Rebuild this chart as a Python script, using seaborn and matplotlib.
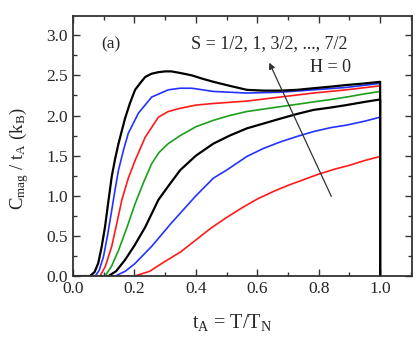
import matplotlib
matplotlib.use("Agg")
import matplotlib.pyplot as plt
from matplotlib.ticker import MultipleLocator, FormatStrFormatter
import seaborn as sns

# values: t_A = T/T_N and C_mag / t_A for S = 1/2 ... 7/2
t_s05 = [0, 0.2, 0.25, 0.29, 0.35, 0.4, 0.45, 0.5, 0.55, 0.6, 0.65, 0.7, 0.75, 0.8, 0.85, 0.9, 0.95, 1.0]
c_s05 = [0, 0.0, 0.06, 0.16, 0.3, 0.45, 0.6, 0.73, 0.85, 0.96, 1.05, 1.13, 1.2, 1.27, 1.33, 1.38, 1.44, 1.49]

t_s10 = [0, 0.137, 0.17, 0.2, 0.256, 0.32, 0.36, 0.4, 0.457, 0.5, 0.566, 0.62, 0.674, 0.73, 0.783, 0.84, 0.89, 0.95, 1.0]
c_s10 = [0, 0.0, 0.06, 0.15, 0.37, 0.66, 0.83, 1.0, 1.22, 1.32, 1.49, 1.59, 1.67, 1.74, 1.80, 1.85, 1.88, 1.93, 1.98]

t_s15 = [0, 0.115, 0.14, 0.169, 0.2, 0.235, 0.278, 0.31, 0.349, 0.4, 0.457, 0.51, 0.566, 0.62, 0.674, 0.73, 0.783, 0.84, 0.89, 0.95, 1.0]
c_s15 = [0, 0.0, 0.06, 0.2, 0.38, 0.61, 0.95, 1.12, 1.32, 1.5, 1.65, 1.75, 1.84, 1.90, 1.96, 2.02, 2.07, 2.10, 2.13, 2.17, 2.20]

t_s20 = [0, 0.104, 0.125, 0.148, 0.175, 0.202, 0.23, 0.256, 0.28, 0.31, 0.349, 0.4, 0.457, 0.51, 0.566, 0.62, 0.674, 0.73, 0.783, 0.84, 0.89, 0.95, 1.0]
c_s20 = [0, 0.0, 0.12, 0.32, 0.6, 0.9, 1.17, 1.40, 1.54, 1.65, 1.75, 1.86, 1.94, 2.0, 2.05, 2.08, 2.11, 2.14, 2.17, 2.20, 2.23, 2.27, 2.30]

t_s25 = [0, 0.088, 0.105, 0.126, 0.145, 0.159, 0.18, 0.202, 0.235, 0.278, 0.31, 0.349, 0.4, 0.457, 0.566, 0.674, 0.783, 0.89, 1.0]
c_s25 = [0, 0.0, 0.12, 0.37, 0.70, 0.95, 1.22, 1.44, 1.73, 1.98, 2.05, 2.09, 2.13, 2.15, 2.18, 2.23, 2.28, 2.32, 2.37]

t_s30 = [0, 0.072, 0.085, 0.099, 0.112, 0.126, 0.137, 0.148, 0.165, 0.18, 0.213, 0.256, 0.31, 0.349, 0.387, 0.457, 0.566, 0.674, 0.783, 0.89, 1.0]
c_s30 = [0, 0.0, 0.07, 0.24, 0.5, 0.82, 1.08, 1.32, 1.58, 1.78, 2.03, 2.23, 2.32, 2.34, 2.34, 2.30, 2.28, 2.29, 2.32, 2.35, 2.40]

t_s35 = [0, 0.055, 0.07, 0.082, 0.093, 0.104, 0.115, 0.126, 0.137, 0.148, 0.169, 0.185, 0.202, 0.22, 0.235,
         0.255, 0.278, 0.3, 0.32, 0.349, 0.387, 0.42, 0.457, 0.51, 0.566, 0.62, 0.674, 0.73, 0.783, 0.84, 0.89, 0.95, 1.0]
c_s35 = [0, 0.0, 0.05, 0.16, 0.36, 0.61, 0.93, 1.24, 1.46, 1.65, 1.96, 2.15, 2.32, 2.41, 2.48,
         2.52, 2.54, 2.55, 2.55, 2.53, 2.50, 2.46, 2.42, 2.37, 2.32, 2.31, 2.31, 2.32, 2.34, 2.36, 2.38, 2.40, 2.42]

series_t = [t_s05, t_s10, t_s15, t_s20, t_s25, t_s30, t_s35]
series_c = [c_s05, c_s10, c_s15, c_s20, c_s25, c_s30, c_s35]
colors = ["#ff1a1a", "#2233ff", "black", "#1aa01a", "#ff1a1a", "#2233ff", "black"]
widths = [1.2, 1.2, 1.6, 1.2, 1.2, 1.2, 1.6]

sns.set_style("ticks")
plt.rcParams["font.family"] = ["Liberation Serif", "DejaVu Serif"]
plt.rcParams["mathtext.fontset"] = "custom"
plt.rcParams["mathtext.rm"] = "Liberation Serif"
plt.rcParams["mathtext.it"] = "Liberation Serif"

fig = plt.figure(figsize=(4.15, 3.4), dpi=100)
ax = fig.add_axes([0.176, 0.188, 0.817, 0.765])

for t, c, col, lw in zip(series_t, series_c, colors, widths):
    # each curve drops back to zero at t_A = 1
    sns.lineplot(x=t + [1.0], y=c + [0.0], color=col, linewidth=lw,
                 estimator=None, sort=False, ax=ax)

ax.annotate("", xy=(0.635, 2.69), xytext=(0.845, 0.96),
            arrowprops=dict(arrowstyle="-|>", color="#333333", lw=0.9,
                            mutation_scale=9))
ax.text(0.093, 2.88, "(a)", fontsize=12.5, ha="left", va="center")
ax.text(0.64, 2.9, "S = 1/2, 1, 3/2, ..., 7/2", fontsize=13, ha="center", va="center")
ax.text(0.905, 2.6, "H = 0", fontsize=13, ha="right", va="center")

ax.set_xlim(0, 1.104)
ax.set_ylim(0, 3.24)
ax.xaxis.set_major_locator(MultipleLocator(0.2))
ax.xaxis.set_minor_locator(MultipleLocator(0.1))
ax.yaxis.set_major_locator(MultipleLocator(0.5))
ax.yaxis.set_minor_locator(MultipleLocator(0.25))
ax.xaxis.set_major_formatter(FormatStrFormatter("%.1f"))
ax.yaxis.set_major_formatter(FormatStrFormatter("%.1f"))
ax.tick_params(which="both", direction="in", top=True, right=True, color="#333333",
               labelsize=12.5, width=1.0)
ax.tick_params(which="major", length=5)
ax.tick_params(which="minor", length=3)
for s in ax.spines.values():
    s.set_linewidth(1.3)
    s.set_color("#333333")

ax.set_xlabel(r"t$_\mathregular{A}$ = T/T$_\mathregular{N}$", fontsize=14.5)
ax.set_ylabel(r"C$_\mathregular{mag}$ / t$_\mathregular{A}$ (k$_\mathregular{B}$)", fontsize=13.5)
ax.xaxis.set_label_coords(0.47, -0.14)
ax.yaxis.set_label_coords(-0.125, 0.45)

fig.savefig("out.png", dpi=100)
